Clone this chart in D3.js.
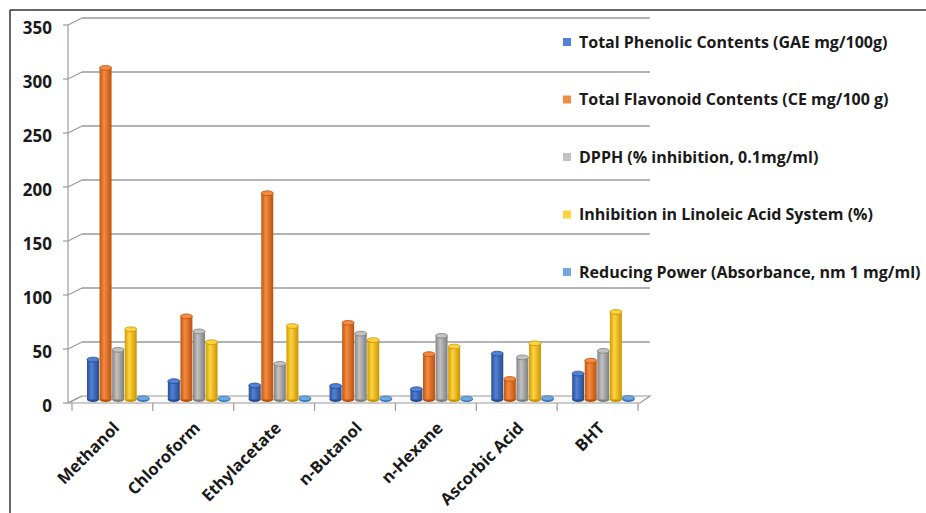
<!DOCTYPE html>
<html><head><meta charset="utf-8">
<script src="https://cdn.jsdelivr.net/npm/d3@7"></script>
<style>
html,body{margin:0;padding:0;background:#fff;}
svg{display:block;}
text{font-family:"Open Sans",Lato,sans-serif;font-weight:700;fill:#1a1a1a;}
</style></head>
<body>
<svg id="c" width="926" height="513"></svg>
<script>
// ---- data ----
const categories = ["Methanol","Chloroform","Ethylacetate","n-Butanol","n-Hexane","Ascorbic Acid","BHT"];
const seriesNames = [
  "Total Phenolic Contents (GAE mg/100g)",
  "Total Flavonoid Contents (CE mg/100 g)",
  "DPPH (% inhibition, 0.1mg/ml)",
  "Inhibition in Linoleic Acid System (%)",
  "Reducing Power (Absorbance, nm 1 mg/ml)"
];
const phenolic  = [37, 17, 13, 12.5, 9.5, 42.5, 24];
const flavonoid = [307, 77, 191, 71, 42, 19, 36];
const dpph      = [46, 63, 33, 61, 59, 39, 45];
const linoleic  = [65, 53, 68, 55, 49, 52, 81];
const reducing  = [1.2, 0.9, 1.1, 1.0, 0.8, 1.3, 1.4];
const yTicks = [0, 50, 100, 150, 200, 250, 300, 350];

const seriesValues = [phenolic, flavonoid, dpph, linoleic, reducing];
const colors = [
  ["#2c4f92","#4f82d9","#2a4a88"],
  ["#c0560f","#f58b42","#b9520d"],
  ["#858585","#c2c2c2","#7e7e7e"],
  ["#d19c00","#ffd43f","#c89400"],
  ["#3f7cc0","#6ea8e0","#3a74b5"]
];

const svg = d3.select("#c");
const defs = svg.append("defs");
colors.forEach((c,i)=>{
  const g = defs.append("linearGradient").attr("id","g"+i).attr("x1","0").attr("x2","1").attr("y1","0").attr("y2","0");
  g.append("stop").attr("offset","0%").attr("stop-color",c[0]);
  g.append("stop").attr("offset","38%").attr("stop-color",c[1]);
  g.append("stop").attr("offset","100%").attr("stop-color",c[2]);
});

// frame
svg.append("line").attr("x1",10).attr("y1",10).attr("x2",926).attr("y2",10).attr("stroke","#333").attr("stroke-width",1.5);
svg.append("line").attr("x1",10).attr("y1",10).attr("x2",10).attr("y2",513).attr("stroke","#333").attr("stroke-width",1.5);

// scales
const yFront = d3.scaleLinear().domain([0,350]).range([403,25]);
const yBack  = d3.scaleLinear().domain([0,350]).range([396,18]);
const yMid   = d3.scaleLinear().domain([0,350]).range([399.5,21.5]);
const x = d3.scaleBand().domain(categories).range([72,638]);
const x1 = d3.scaleBand().domain(d3.range(seriesNames.length)).range([9, x.bandwidth()-9]);
const frontL = 68, backL = 82, frontR = 638, backR = 650;
const gridCol = "#9a9a9a";

// floor
svg.append("polygon")
  .attr("points", [[frontL,yFront(0)],[frontR+2,yFront(0)],[backR,yBack(0)],[backL,yBack(0)]].map(p=>p.join(",")).join(" "))
  .attr("fill","#fafafa").attr("stroke",gridCol).attr("stroke-width",1.2);

// back-wall gridlines and side-wall diagonals
const grid = svg.append("g");
yTicks.filter(t=>t>0).forEach(t=>{
  grid.append("line").attr("x1",backL).attr("x2",backR).attr("y1",yBack(t)).attr("y2",yBack(t))
    .attr("stroke",gridCol).attr("stroke-width",1.3);
});
yTicks.forEach(t=>{
  grid.append("line").attr("x1",frontL).attr("x2",backL).attr("y1",yFront(t)).attr("y2",yBack(t))
    .attr("stroke",gridCol).attr("stroke-width",1.2);
  grid.append("line").attr("x1",frontL-5).attr("x2",frontL).attr("y1",yFront(t)).attr("y2",yFront(t))
    .attr("stroke",gridCol).attr("stroke-width",1.2);
});
// front vertical axis
svg.append("line").attr("x1",frontL).attr("x2",frontL).attr("y1",yFront(350)).attr("y2",yFront(0)).attr("stroke",gridCol).attr("stroke-width",1.2);

// category ticks
const xt = svg.append("g");
categories.concat(["_end"]).forEach((c,i)=>{
  const xx = i < categories.length ? x(c) : x(categories[categories.length-1]) + x.bandwidth();
  xt.append("line").attr("x1",xx).attr("x2",xx).attr("y1",yFront(0)).attr("y2",yFront(0)+8)
    .attr("stroke",gridCol).attr("stroke-width",1.2);
});

// y labels
svg.append("g").selectAll("text").data(yTicks).join("text")
  .attr("x",52).attr("y",d=>yFront(d)+3).attr("dy","0.35em")
  .attr("text-anchor","end").style("font-size","17px").text(d=>d);

// cylinders
const bars = svg.append("g");
const midShift = 6;
categories.forEach((c,ci)=>{
  seriesValues.forEach((vals,si)=>{
    const v = vals[ci];
    const w = x1.bandwidth()-0.6;
    const x0 = x(c) + midShift + x1(si);
    const yt = yMid(v), yb = yMid(0);
    const ry = 2.4;
    const col = colors[si];
    bars.append("ellipse").attr("cx",x0+w/2).attr("cy",yb).attr("rx",w/2).attr("ry",ry)
      .attr("fill",col[2]);
    bars.append("rect").attr("x",x0).attr("y",yt).attr("width",w).attr("height",Math.max(0,yb-yt))
      .attr("fill","url(#g"+si+")");
    bars.append("ellipse").attr("cx",x0+w/2).attr("cy",yt).attr("rx",w/2).attr("ry",ry)
      .attr("fill",col[1]).attr("stroke",col[2]).attr("stroke-width",0.8);
  });
});

// x labels
svg.append("g").selectAll("text").data(categories).join("text")
  .attr("text-anchor","end")
  .attr("transform",d=>`translate(${x(d)+x.bandwidth()/2+8},${yFront(0)+26}) rotate(-45)`)
  .style("font-size","16.5px").text(d=>d);

// legend
const leg = svg.append("g");
const legY = [42, 99.5, 157, 214.5, 272];
seriesNames.forEach((n,i)=>{
  leg.append("rect").attr("x",563).attr("y",legY[i]-4).attr("width",8).attr("height",8).attr("fill",colors[i][1]);
  leg.append("text").attr("x",579).attr("y",legY[i]).attr("dy","0.35em").style("font-size","16px").text(n);
});
</script>
</body></html>
